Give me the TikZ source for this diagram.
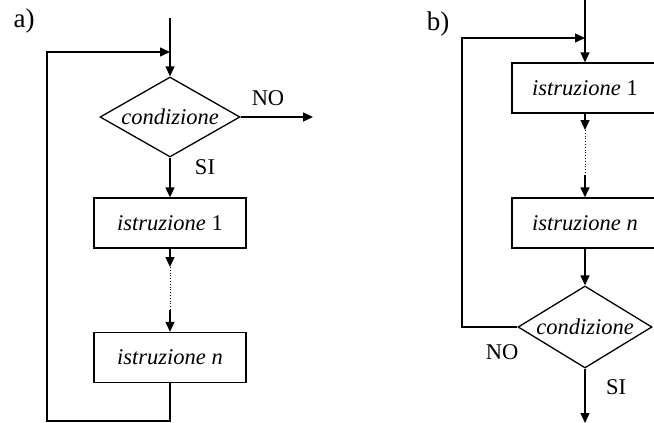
\documentclass[tikz,border=0pt]{standalone}
\usepackage{fontspec}
\setmainfont{Liberation Serif}
\usetikzlibrary{shapes.geometric,arrows.meta}
\begin{document}
\begin{tikzpicture}[x=1pt,y=-1pt,
  every node/.style={font=\fontsize{22.5}{25}\selectfont},
  tag/.style={font=\fontsize{27}{30}\selectfont},
  flow/.style={line width=1.3pt},
  arr/.style={flow,-{Triangle[length=10pt,width=9pt]}},
  stepbox/.style={draw,line width=1.3pt,rectangle,inner sep=0pt,minimum height=50pt},
  test/.style={draw,line width=1.3pt,diamond,inner sep=0pt,shape aspect=1.75,minimum width=140pt,minimum height=80pt}]
\useasboundingbox (0,0) rectangle (654,423);
\clip (0,0) rectangle (654,423);

% ---- a) loop with the test at the top ----
\node[tag] (la) at (24,21) {a)};
\node[test] (ca) at (170,117) {\itshape condizione};
\node[stepbox,minimum width=152pt] (a1) at (170,223) {\itshape istruzione\/\upshape\ 1};
\node[stepbox,minimum width=152pt] (an) at (170,357.5) {\itshape istruzione n};
\coordinate (ain) at (170,18);
\coordinate (aback) at (170,52);
\coordinate (aout) at (313,117);
\coordinate (ad1) at (170,267);
\coordinate (ad2) at (170,310);
\coordinate (abot) at (170,421);
\node (ano) at (268,98) {NO};
\node (asi) at (205,167) {SI};

\draw[arr] (ain) -- (ca.north);
\draw[arr] (ca.east) -- (aout);
\draw[arr] (ca.south) -- (a1.north);
\draw[arr] (a1.south) -- (ad1);
\draw[flow,line width=0.8pt,dotted] (ad1) -- (ad2);
\draw[arr] (ad2) -- (an.north);
\draw[arr] (an.south) -- (abot) -| (47,52) -- (aback);

% ---- b) loop with the test at the bottom ----
\node[tag] (lb) at (438,24) {b)};
\node[stepbox,minimum width=146pt] (b1) at (585,88) {\itshape istruzione\/\upshape\ 1};
\node[stepbox,minimum width=146pt] (bn) at (585,223) {\itshape istruzione n};
\node[test,minimum width=134pt,minimum height=82pt] (cb) at (585,327) {\itshape condizione};
\coordinate (bin) at (585,0);
\coordinate (bback) at (585,38);
\coordinate (bd1) at (585,130);
\coordinate (bd2) at (585,175);
\coordinate (bout) at (585,423);
\node (bno) at (502,352) {NO};
\node (bsi) at (616,387) {SI};

\draw[arr] (bin) -- (b1.north);
\draw[arr] (b1.south) -- (bd1);
\draw[flow,line width=0.8pt,dotted] (bd1) -- (bd2);
\draw[arr] (bd2) -- (bn.north);
\draw[arr] (bn.south) -- (cb.north);
\draw[arr] (cb.south) -- (bout);
\draw[arr] (cb.west) -- (462,327) |- (bback);
\end{tikzpicture}
\end{document}
